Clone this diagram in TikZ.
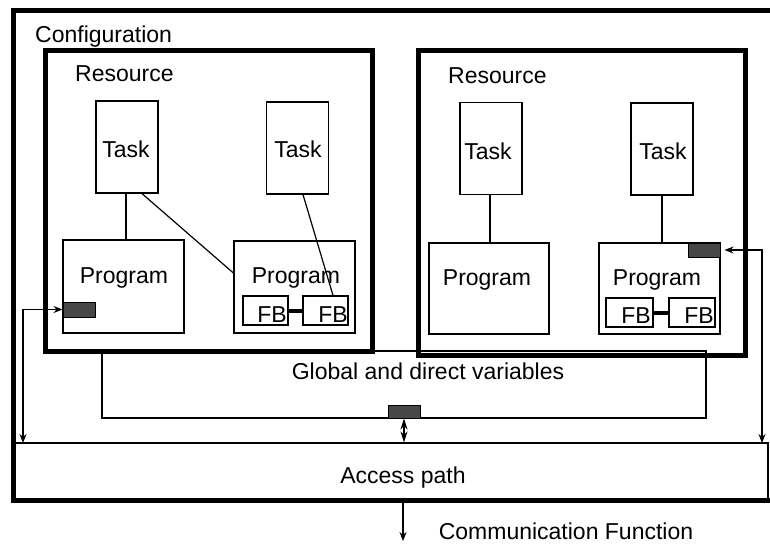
\documentclass[tikz,border=0pt]{standalone}
\usepackage{fontspec}
\setmainfont{Liberation Sans}
\usetikzlibrary{arrows.meta}
\begin{document}
\begin{tikzpicture}[x=1pt,y=-1pt,
  txt/.style={inner sep=0pt,anchor=base,font=\fontsize{23}{27}\selectfont},
  thinbox/.style={draw,line width=1.2pt,inner sep=0pt,fill=white},
  taskbox/.style={thinbox,minimum width=62pt,minimum height=92pt},
  progbox/.style={thinbox,minimum width=121pt,minimum height=92pt},
  fbbox/.style={thinbox,minimum width=46pt,minimum height=29pt},
  resbox/.style={draw,line width=5pt,inner sep=0pt,minimum width=327pt},
  varbox/.style={draw=black,fill=black!72,line width=1pt,inner sep=0pt,minimum width=32pt,minimum height=14pt},
  link/.style={line width=1.2pt},
  dbl/.style={line width=1.2pt,{Stealth[length=9pt,width=7pt]}-{Stealth[length=9pt,width=7pt]}},
  bold/.style={line width=5pt}]
\useasboundingbox (0,0) rectangle (770,544);

% global and direct variables area (behind the resources)
\node[thinbox,minimum width=604pt,minimum height=67pt] (glob) at (404,384.5) {};
\node[txt] (globtxt) at (428,379) {Global and direct variables};
\node[varbox,minimum height=13pt] (d3) at (404,411.5) {};

% access path
\node[thinbox,minimum width=755pt,minimum height=57pt] (acc) at (390.5,471.5) {};
\node[txt] (acctxt) at (403,483) {Access path};

% configuration frame
\draw[bold] (772,10) -- (13,10) -- (13,500) -- (772,500);
\node[txt,anchor=base west] (conf) at (35,42) {Configuration};

% left resource
\node[resbox,minimum height=301pt] (resL) at (208.5,200.5) {};
\node[txt,anchor=base west] (resLt) at (75,81) {Resource};
\node[taskbox] (t1) at (127,147) {};
\node[txt] at (126,157) {Task};
\node[taskbox] (t2) at (297.5,148) {};
\node[txt] at (298,157) {Task};
\node[progbox,minimum height=93pt] (p1) at (123.5,286.5) {};
\node[txt] at (124,283) {Program};
\node[progbox] (p2) at (294.5,287) {};
\node[txt] at (296,283) {Program};
\node[fbbox,minimum width=45pt] (fb1) at (265.5,310.5) {};
\node[txt] at (272,322) {FB};
\node[fbbox,minimum width=45pt] (fb2) at (325.5,310.5) {};
\node[txt] at (333,322) {FB};
\node[varbox,minimum height=15pt] (d1) at (79,309.5) {};

% right resource
\node[resbox,minimum height=305pt] (resR) at (581.5,202.5) {};
\node[txt,anchor=base west] (resRt) at (448,83) {Resource};
\node[taskbox] (t3) at (491,148.5) {};
\node[txt] at (488,159) {Task};
\node[taskbox] (t4) at (662,149) {};
\node[txt] at (663,159) {Task};
\node[progbox,minimum width=120pt,minimum height=91pt] (p3) at (489,288.5) {};
\node[txt] at (487,285) {Program};
\node[progbox,minimum height=91pt] (p4) at (659.5,288.5) {};
\node[txt] at (657,285) {Program};
\node[fbbox,minimum width=47pt] (fb3) at (629.5,312.5) {};
\node[txt] at (636,323) {FB};
\node[fbbox] (fb4) at (692,312.5) {};
\node[txt] at (699,323) {FB};
\node[varbox] (d2) at (704,250) {};

% task to program links
\draw[link] ([xshift=-1pt]t1.south) -- ([xshift=-1pt]t1.south |- p1.north);
\draw[link] ([xshift=15pt]t1.south) -- ([yshift=14pt]p2.west);
\draw[link] ([xshift=5.5pt]t2.south) -- ([xshift=7.5pt]fb2.north);
\draw[link] ([xshift=-1pt]t3.south) -- ([xshift=-1pt]t3.south |- p3.north);
\draw[link] (t4.south) -- (t4.south |- p4.north);

% function block coupling
\draw[line width=4pt] (fb1.east) -- (fb2.west);
\draw[line width=4pt] (fb3.east) -- (fb4.west);

% access connections
\coordinate (lb) at (23,443);
\coordinate (rb) at (762,443);
\draw[dbl] (lb) |- (d1.west);
\draw[dbl,shorten >=4pt] (rb) |- (d2.east);
\draw[line width=1.2pt,{Stealth[length=11pt,width=7pt]}-{Stealth[length=11pt,width=7pt]}] (d3.south) -- (d3.south |- acc.north);

% communication function
\coordinate (cf) at (403,541);
\draw[link,-{Stealth[length=9pt,width=7pt]}] (acc.south -| cf) -- (cf);
\node[txt] (comm) at (566,539) {Communication Function};
\end{tikzpicture}
\end{document}
